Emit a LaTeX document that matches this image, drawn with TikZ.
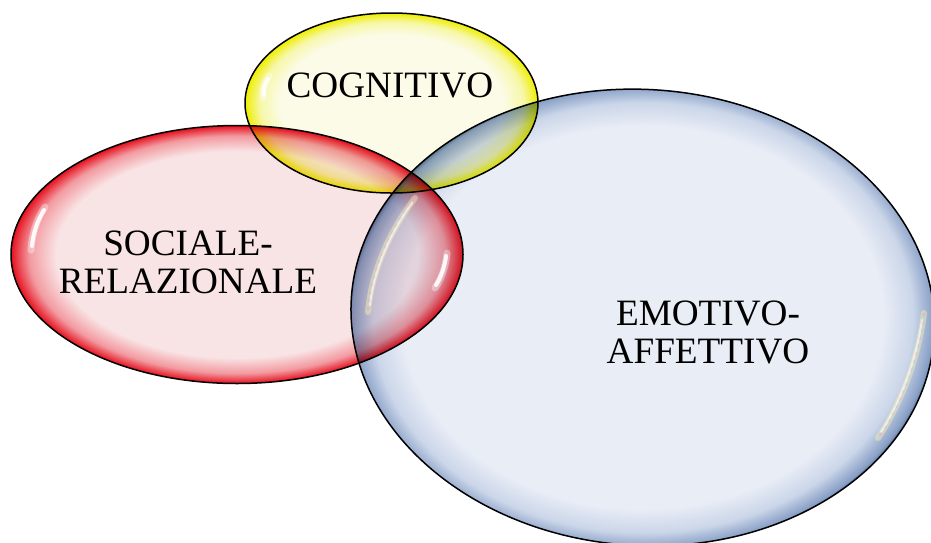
\documentclass[tikz,border=0pt]{standalone}
\usepackage{fontspec}
\setmainfont{Liberation Serif}
\definecolor{ycenter}{HTML}{FBFBE8}
\definecolor{ymid}{HTML}{F7F7A8}
\definecolor{yedge}{HTML}{EEEE00}
\definecolor{rcenter}{HTML}{F9E4E5}
\definecolor{rmid}{HTML}{F29AA0}
\definecolor{redge}{HTML}{E6101E}
\definecolor{bcenter}{HTML}{E9EDF6}
\definecolor{bmid}{HTML}{CBD6E9}
\definecolor{bmid2}{HTML}{889FC6}
\definecolor{bedge}{HTML}{2C426C}
\definecolor{glowyel}{HTML}{F6F2A8}
\definecolor{glowpink}{HTML}{F2A6D6}
\definecolor{glowcyan}{HTML}{A8E4F0}
\pgfdeclareradialshading{yglass}{\pgfpoint{0bp}{0bp}}{color(0bp)=(ycenter); color(19bp)=(ycenter); color(22.5bp)=(ymid); color(25bp)=(yedge); color(50bp)=(yedge)}
\pgfdeclareradialshading{rglass}{\pgfpoint{0bp}{0bp}}{color(0bp)=(rcenter); color(20bp)=(rcenter); color(23bp)=(rmid); color(25bp)=(redge); color(50bp)=(redge)}
\pgfdeclareradialshading{bglass}{\pgfpoint{0bp}{0bp}}{color(0bp)=(bcenter); color(20bp)=(bcenter); color(22.5bp)=(bmid); color(24.2bp)=(bmid2); color(25bp)=(bedge); color(50bp)=(bedge)}
\tikzset{
  lbl/.style={font=\fontsize{37.2}{38}\selectfont, align=center, inner sep=0pt},
  rim/.style={draw=black, line width=1.5pt},
  gloss/.style={white, line width=4pt, line cap=round, opacity=0.9},
  glosssoft/.style={white, line width=7pt, line cap=round, opacity=0.35},
  rainbowbase/.style={glowyel, line width=6pt, line cap=round, opacity=0.45},
  rainbowpink/.style={glowpink, line width=2.5pt, dash pattern=on 3pt off 5pt, opacity=0.7},
  rainbowcyan/.style={glowcyan, line width=2pt, dash pattern=on 2pt off 6pt, dash phase=4pt, opacity=0.7},
  rainbowwhite/.style={white, line width=2pt, line cap=round, opacity=0.6}
}
\begin{document}
\begin{tikzpicture}[x=1pt,y=-1pt]
\useasboundingbox (0,0) rectangle (931,542);
\begin{scope}[blend mode=multiply]
\shade[shading=yglass] (391.5,103) ellipse [x radius=146.5, y radius=90];
\shade[shading=rglass] (237,254.5) ellipse [x radius=226, y radius=129];
\shade[shading=bglass, rotate around={-4:(642.7,317.5)}] (642.7,317.5) ellipse [x radius=292, y radius=228];
\end{scope}
% gloss highlights
\draw[glosssoft] (45,207) .. controls (36,220) and (32,235) .. (31,250);
\draw[gloss] (44,210) .. controls (37,221) and (33,234) .. (32,246);
\draw[glosssoft] (447,253) .. controls (446,265) and (442,278) .. (435,288);
\draw[gloss] (446,256) .. controls (445,266) and (441,277) .. (436,285);
\draw[glosssoft] (269,76) .. controls (264,83) and (262,90) .. (263,98);
\draw[gloss] (268,79) .. controls (264,85) and (263,90) .. (264,95);
% iridescent reflections on the blue bubble
\draw[rainbowbase] (415,198) .. controls (392,228) and (372,268) .. (368,312);
\draw[rainbowpink] (415,198) .. controls (392,228) and (372,268) .. (368,312);
\draw[rainbowcyan] (415,198) .. controls (392,228) and (372,268) .. (368,312);
\draw[rainbowwhite] (412,203) .. controls (392,230) and (374,268) .. (370,305);
\draw[rainbowbase] (924,313) .. controls (918,360) and (900,405) .. (878,438);
\draw[rainbowpink] (924,313) .. controls (918,360) and (900,405) .. (878,438);
\draw[rainbowcyan] (924,313) .. controls (918,360) and (900,405) .. (878,438);
\draw[rainbowwhite] (922,320) .. controls (916,362) and (899,404) .. (881,432);
% outlines
\draw[rim] (391.5,103) ellipse [x radius=146.5, y radius=90];
\draw[rim] (237,254.5) ellipse [x radius=226, y radius=129];
\draw[rim, rotate around={-4:(642.7,317.5)}] (642.7,317.5) ellipse [x radius=292, y radius=228];
% labels
\node[lbl, anchor=base] (cog) at (390,97) {COGNITIVO};
\node[lbl] (soc) at (188,262) {SOCIALE-\\RELAZIONALE};
\node[lbl] (emo) at (708,332) {EMOTIVO-\\AFFETTIVO};
\end{tikzpicture}
\end{document}
